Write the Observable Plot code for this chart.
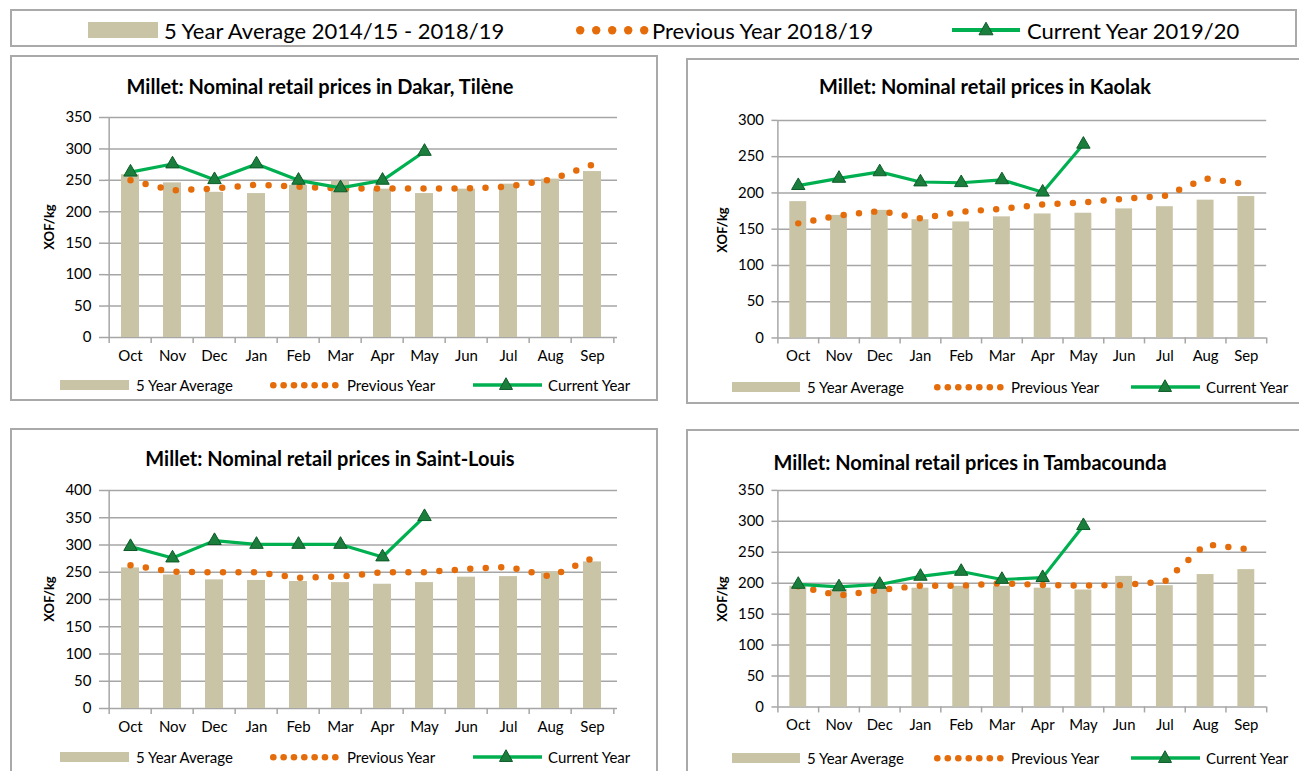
<!DOCTYPE html>
<html>
<head>
<meta charset="utf-8">
<script src="https://cdn.jsdelivr.net/npm/d3@7"></script>
<script src="https://cdn.jsdelivr.net/npm/@observablehq/plot@0.6"></script>
<style>
  html, body { margin: 0; padding: 0; background: #fff; }
  body { width: 1299px; height: 771px; overflow: hidden; position: relative; font-family: Lato, "Open Sans", sans-serif; color: #000; }
  .box { position: absolute; border: 2px solid #a9a9a9; box-sizing: border-box; background: #fff; }
  .abs { position: absolute; }
  .title { position: absolute; font-weight: bold; font-size: 20px; transform: translate(-50%, -50%); white-space: nowrap; }
  .ylab { position: absolute; font-weight: bold; font-size: 13px; transform: translate(-50%, -50%) rotate(-90deg); white-space: nowrap; }
  .lt { position: absolute; white-space: nowrap; transform: translateY(-50%); }
  svg.sym { position: absolute; overflow: visible; }
</style>
</head>
<body>
<script>
// ---------------- DATA ----------------
const months = ["Oct","Nov","Dec","Jan","Feb","Mar","Apr","May","Jun","Jul","Aug","Sep"];

const dakarAvg  = [259,246,231,229,242,249,236,229,236,244,252,264];
const dakarPrev = [250,234,237,243,240,237,237,237,237,240,251,275];
const dakarCur  = [263,276,251,276,250,238,250,296];

const kaolakAvg  = [188,169,176,163,160,167,171,172,178,181,190,195];
const kaolakPrev = [158,169,175,165,174,178,184,187,192,196,220,212];
const kaolakCur  = [210,220,229,215,214,218,201,267];

const stlouisAvg  = [258,245,236,235,233,231,228,231,241,242,251,269];
const stlouisPrev = [263,251,250,250,240,242,250,250,256,260,242,276];
const stlouisCur  = [297,276,308,301,301,301,278,352];

const tambaAvg  = [195,190,190,192,195,195,192,189,211,196,214,222];
const tambaPrev = [195,180,189,196,196,200,197,196,197,203,263,255];
const tambaCur  = [198,194,198,211,219,206,209,293];

const legendLabelsTop = ["5 Year Average 2014/15 - 2018/19", "Previous Year 2018/19", "Current Year 2019/20"];
const legendLabels = ["5 Year Average", "Previous Year", "Current Year"];
const yLabel = "XOF/kg";

// ---------------- STYLE ----------------
const FONT = "Lato, 'Open Sans', sans-serif";
const TAN = "#cac4a6";
const ORANGE = "#e46c0a";
const GREEN = "#00b050";
const DKGREEN = "#1c7e3d";
const DKSTROKE = "#0c5a27";
const GRID = "#a6a6a6";

function el(tag, cls, style, text) {
  const e = document.createElement(tag);
  if (cls) e.className = cls;
  Object.assign(e.style, style || {});
  if (text != null) e.textContent = text;
  document.body.appendChild(e);
  return e;
}
function svgEl(x, y, w, h, inner) {
  const ns = "http://www.w3.org/2000/svg";
  const s = document.createElementNS(ns, "svg");
  s.setAttribute("class", "sym");
  s.setAttribute("width", w); s.setAttribute("height", h);
  s.style.left = x + "px"; s.style.top = y + "px";
  s.innerHTML = inner;
  document.body.appendChild(s);
  return s;
}
function tri(cx, cy, s) {
  const h = s * 0.9;
  return `<polygon points="${cx},${cy - h*0.62} ${cx - s/2},${cy + h*0.38} ${cx + s/2},${cy + h*0.38}" fill="${DKGREEN}" stroke="${DKSTROKE}" stroke-width="1"/>`;
}

// legend builder
function legend(cfg, labels, fontSize) {
  const cy = cfg.cy;
  svgEl(cfg.sw[0], cy - cfg.swH/2, cfg.sw[1] - cfg.sw[0], cfg.swH,
    `<rect x="0" y="0" width="${cfg.sw[1]-cfg.sw[0]}" height="${cfg.swH}" fill="${TAN}"/>`);
  el("div", "lt", {left: cfg.t1 + "px", top: cy + "px", fontSize: fontSize + "px"}, labels[0]);
  let dots = "";
  const n = cfg.nd, x0 = cfg.dots[0], x1 = cfg.dots[1];
  for (let i = 0; i < n; i++) {
    const cx = (x1 - x0) * i / (n - 1);
    dots += `<circle cx="${cx + cfg.dr}" cy="${cfg.dr}" r="${cfg.dr}" fill="${ORANGE}"/>`;
  }
  svgEl(x0 - cfg.dr, cy - cfg.dr, x1 - x0 + 2*cfg.dr, 2*cfg.dr, dots);
  el("div", "lt", {left: cfg.t2 + "px", top: cy + "px", fontSize: fontSize + "px"}, labels[1]);
  const lw = cfg.line[1] - cfg.line[0];
  const ts = cfg.ts;
  svgEl(cfg.line[0], cy - ts, lw, 2*ts,
    `<line x1="0" x2="${lw}" y1="${ts}" y2="${ts}" stroke="${GREEN}" stroke-width="${cfg.lwid}"/>` + tri(cfg.tri - cfg.line[0], ts, ts));
  el("div", "lt", {left: cfg.t3 + "px", top: cy + "px", fontSize: fontSize + "px"}, labels[2]);
}

// ---------------- LAYOUT ----------------
el("div", "box", {left: "10px", top: "9px", width: "1287px", height: "38px"});
el("div", "box", {left: "10px", top: "55px", width: "648px", height: "346px"});
el("div", "box", {left: "686px", top: "58px", width: "640px", height: "346px"});
el("div", "box", {left: "10px", top: "428px", width: "648px", height: "380px"});
el("div", "box", {left: "686px", top: "429px", width: "640px", height: "380px"});

legend({cy: 30, sw: [88, 158], swH: 16, t1: 164, dots: [580, 644], nd: 5, dr: 4.2, t2: 652,
        line: [952, 1020], tri: 986, ts: 14, lwid: 4, t3: 1027}, legendLabelsTop, 22);

// ---------------- PANELS ----------------
function panel(p) {
  const mL = 95, mR = 33, mT = 17, mB = 34;
  const left = p.axisX - mL, top = p.topY - mT;
  const width = p.plotRight - left + mR;
  const height = p.zeroY - top + mB;
  const step = (p.plotRight - p.axisX) / months.length;
  const pxPerUnit = (p.zeroY - p.topY) / p.ymax;
  const tickV = -6 / pxPerUnit;
  const yticks = d3.range(0, p.ymax + 1, 50);
  const rows = months.map((m, i) => ({month: m, avg: p.avg[i], prev: p.prev[i]}));
  const curRows = p.cur.map((v, i) => ({month: months[i], cur: v}));

  const chart = Plot.plot({
    width, height,
    marginLeft: mL, marginRight: mR, marginTop: mT, marginBottom: mB,
    style: {fontFamily: FONT, fontSize: "15px", color: "#000", background: "transparent", overflow: "visible"},
    x: {domain: months, paddingInner: 0.58, paddingOuter: 0.29, label: null},
    y: {domain: [0, p.ymax], label: null},
    marks: [
      Plot.ruleY(yticks, {stroke: GRID, strokeWidth: 1.5}),
      Plot.barY(rows, {x: "month", y: "avg", fill: TAN}),
      Plot.ruleX([months[0]], {x: d => d, y1: 0, y2: p.ymax, dx: -step/2, stroke: GRID, strokeWidth: 1.5}),
      Plot.ruleX(months, {x: d => d, y1: 0, y2: tickV, dx: -step/2, stroke: GRID, strokeWidth: 1.5}),
      Plot.ruleX([months[months.length - 1]], {x: d => d, y1: 0, y2: tickV, dx: step/2, stroke: GRID, strokeWidth: 1.5}),
      Plot.axisY({ticks: yticks, tickSize: 6, tickPadding: 8, stroke: GRID, strokeWidth: 1.5, label: null, fontSize: 15}),
      Plot.axisX({tickSize: 0, tickPadding: 13, label: null, fontSize: 15}),
      Plot.line(rows, {x: "month", y: "prev", stroke: ORANGE, strokeWidth: 6.5, strokeDasharray: "0 15.5", strokeLinecap: "round"}),
      Plot.line(curRows, {x: "month", y: "cur", stroke: GREEN, strokeWidth: 3.2}),
      Plot.dot(curRows, {x: "month", y: "cur", symbol: "triangle", r: 5, fill: DKGREEN, stroke: DKSTROKE, strokeWidth: 1})
    ]
  });
  const holder = el("div", "abs", {left: left + "px", top: top + "px"});
  holder.appendChild(chart);

  el("div", "title", {left: p.titleX + "px", top: p.titleY + "px"}, p.title);
  el("div", "ylab", {left: p.ylabX + "px", top: ((p.topY + p.zeroY) / 2) + "px"}, yLabel);
  legend(p.leg, legendLabels, 15);
}

const legLeft = (cy) => ({cy, sw: [60, 129], swH: 10, t1: 136, dots: [273, 335], nd: 7, dr: 3.3, t2: 347,
                          line: [473, 542], tri: 506, ts: 13, lwid: 3.5, t3: 548});
const legRight = (cy) => ({cy, sw: [732, 800], swH: 10, t1: 807, dots: [937, 1000], nd: 7, dr: 3.3, t2: 1011,
                           line: [1131, 1200], tri: 1165, ts: 13, lwid: 3.5, t3: 1206});

panel({title: "Millet: Nominal retail prices in Dakar, Tilène", titleX: 320, titleY: 86,
       avg: dakarAvg, prev: dakarPrev, cur: dakarCur, ymax: 350,
       axisX: 105, plotRight: 617, topY: 117, zeroY: 337, ylabX: 49, leg: legLeft(385)});
panel({title: "Millet: Nominal retail prices in Kaolak", titleX: 985, titleY: 86,
       avg: kaolakAvg, prev: kaolakPrev, cur: kaolakCur, ymax: 300,
       axisX: 778, plotRight: 1270, topY: 120, zeroY: 339, ylabX: 722, leg: legRight(387)});
panel({title: "Millet: Nominal retail prices in Saint-Louis", titleX: 330, titleY: 458,
       avg: stlouisAvg, prev: stlouisPrev, cur: stlouisCur, ymax: 400,
       axisX: 105, plotRight: 617, topY: 490, zeroY: 708, ylabX: 49, leg: legLeft(757)});
panel({title: "Millet: Nominal retail prices in Tambacounda", titleX: 970, titleY: 462,
       avg: tambaAvg, prev: tambaPrev, cur: tambaCur, ymax: 350,
       axisX: 778, plotRight: 1270, topY: 490, zeroY: 708, ylabX: 722, leg: legRight(758)});
</script>
</body>
</html>
